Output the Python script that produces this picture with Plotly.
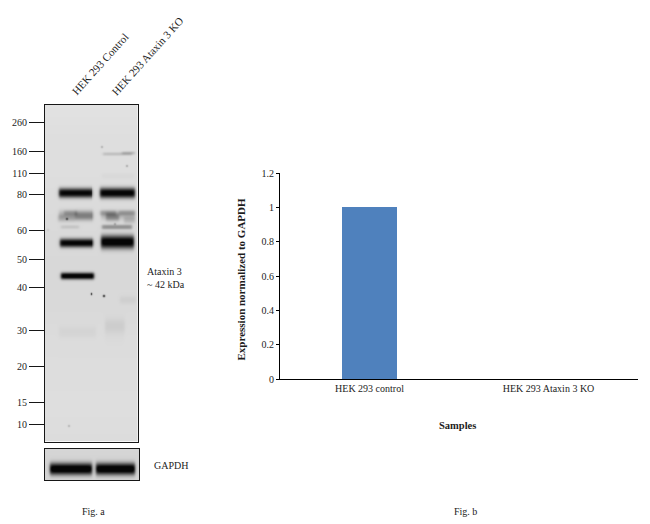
import numpy as np
import plotly.graph_objects as go

W, H = 650, 524
SERIF = "Liberation Serif"
INK = "#1c1c1c"

# ---- Fig. b: densitometry bar chart ----
samples = ["HEK 293 control", "HEK 293 Ataxin 3 KO"]
expression = [1, 0]
expression_ticks = [0, 0.2, 0.4, 0.6, 0.8, 1, 1.2]
expression_ticktext = ["0", "0.2", "0.4", "0.6", "0.8", "1", "1.2"]

# ---- Fig. a: marker ladder (kDa) and where each ran on the membrane ----
ladder_kda = ["260", "160", "110", "80", "60", "50", "40", "30", "20", "15", "10"]
ladder_migration = [18, 47, 69, 90, 126, 155, 184, 227, 263, 299, 321]

# Bands read from the membrane: left, right, migration, half thickness, darkness (0-230)
band_left = [14, 56, 14, 57, 13, 19, 30, 56, 62, 75, 80, 16, 58, 15, 57, 16, 59, 78, 14, 61, 61, 58, 76]
band_right = [48, 91, 49, 91, 30, 32, 49, 72, 75, 91, 91, 34, 88, 49, 90, 50, 88, 91, 52, 81, 80, 90, 92]
band_migration = [89, 89, 111, 111, 114, 109, 112, 109, 113, 109, 116, 123, 123, 139, 138, 172, 50, 49, 228, 222, 225, 72, 196]
band_half = [4.8, 5.2, 5.0, 4.8, 3.8, 2.8, 4.6, 2.8, 4.2, 2.8, 3.6, 2.0, 2.4, 4.4, 6.6, 3.4, 1.8, 1.8, 6.0, 7.0, 13.0, 3.0, 4.0]
band_dark = [215, 220, 38, 35, 32, 38, 55, 38, 60, 42, 32, 20, 70, 215, 225, 225, 28, 30, 7, 10, 4, 5, 10]

# Small specks: x, migration, darkness
speck_x = [47, 60, 24, 58, 83, 22, 71, 3]
speck_migration = [190, 192, 322, 43, 62, 115, 120, 126]
speck_dark = [170, 150, 35, 40, 45, 90, 40, 15]

# Loading-control bands
gapdh_left = [5, 51]
gapdh_right = [47, 90]
gapdh_migration = [20, 20]
gapdh_half = [6.0, 6.0]
gapdh_dark = [225, 225]

# Membrane background level, top to bottom
bg_levels = [226, 222, 222, 219, 217, 216, 217, 220, 221, 222, 220]


def render(nx, ny, lefts, rights, mids, halves, darks, bg, dots=()):
    xs = np.arange(nx) + 0.5
    ys = np.arange(ny) + 0.5
    img = np.tile(np.interp(ys, np.linspace(0, ny, len(bg)), bg)[:, None], (1, nx))
    for a, b, m, h, d in zip(lefts, rights, mids, halves, darks):
        across = np.exp(-np.abs((ys - m) / h) ** 2.4)
        along = 0.5 * (np.tanh((xs - a) / 1.6) - np.tanh((xs - b) / 1.6))
        img -= d * np.outer(across, along)
    for sx, sm, sd in dots:
        img -= sd * np.exp(-((xs[None, :] - sx) ** 2 + (ys[:, None] - sm) ** 2) / 1.6)
    return np.clip(img, 5, 255)


blot = render(94, 338, band_left, band_right, band_migration, band_half, band_dark,
              bg_levels, list(zip(speck_x, speck_migration, speck_dark)))
gapdh = render(95, 32, gapdh_left, gapdh_right, gapdh_migration, gapdh_half, gapdh_dark, [214, 210, 212])

GRAY = [[0, "#000000"], [1, "#ffffff"]]
fig = go.Figure()
fig.add_trace(go.Bar(x=samples, y=expression, width=0.31, marker=dict(color="#4f81bd", line_width=0),
                     xaxis="x", yaxis="y", showlegend=False))
fig.add_trace(go.Heatmap(z=blot, x=np.arange(94) + 0.5, y=np.arange(338) + 0.5, colorscale=GRAY,
                         zmin=0, zmax=255, showscale=False, xaxis="x2", yaxis="y2"))
fig.add_trace(go.Heatmap(z=gapdh, x=np.arange(95) + 0.5, y=np.arange(32) + 0.5, colorscale=GRAY,
                         zmin=0, zmax=255, showscale=False, xaxis="x3", yaxis="y3"))


def px(x0, x1):
    return [x0 / W, x1 / W]


def py(y_top, y_bottom):
    return [1 - y_bottom / H, 1 - y_top / H]


FRAME = dict(showline=True, linecolor="#161616", linewidth=1, mirror=True, showgrid=False, zeroline=False,
             automargin=False)
fig.update_layout(
    width=W, height=H, margin=dict(l=0, r=0, t=0, b=0), paper_bgcolor="white", plot_bgcolor="white",
    font=dict(family=SERIF, size=10, color=INK), bargap=0,
    xaxis=dict(domain=px(280, 638), range=[-0.5, 1.5], type="category", categoryorder="array",
               categoryarray=samples, showline=True, linecolor="black", linewidth=1, ticks="",
               showgrid=False, zeroline=False, tickfont=dict(size=10, color=INK), automargin=False,
               title=dict(text=" ")),
    yaxis=dict(domain=py(173, 379), range=[0, 1.2], tickvals=expression_ticks, ticktext=expression_ticktext,
               showline=True, linecolor="black", linewidth=1, ticks="outside", ticklen=3, tickcolor="black",
               showgrid=False, zeroline=False, tickfont=dict(size=10, color=INK), anchor="x", automargin=False,
               title=dict(text=" ")),
    xaxis2=dict(domain=px(45, 137.5), range=[0, 94], showticklabels=False, ticks="", anchor="y2", **FRAME),
    yaxis2=dict(domain=py(104.5, 441.5), range=[338, 0], tickvals=ladder_migration, ticktext=ladder_kda,
                ticks="outside", ticklen=15, tickwidth=1.3, tickcolor="#161616", anchor="x2",
                tickfont=dict(size=10, color=INK), **FRAME),
    xaxis3=dict(domain=px(44.5, 139), range=[0, 95], showticklabels=False, ticks="", anchor="y3", **FRAME),
    yaxis3=dict(domain=py(448.5, 480), range=[32, 0], showticklabels=False, ticks="", anchor="x3", **FRAME),
)


def note(text, x, y, angle=0, size=10, bold=False):
    fig.add_annotation(text=f"<b>{text}</b>" if bold else text, x=x / W, y=1 - y / H, xref="paper", yref="paper",
                       showarrow=False, textangle=angle, xanchor="center", yanchor="middle",
                       font=dict(size=size, color=INK, family=SERIF))


note("HEK 293 Control", 100, 64, -48, 11)
note("HEK 293 Ataxin 3 KO", 147.5, 56, -48, 11)
note("Ataxin 3", 164.5, 271)
note("~ 42 kDa", 166, 284)
note("GAPDH", 171, 465)
note("Fig. a", 93, 511)
note("Fig. b", 465, 511)
note("Samples", 457, 425, 0, 10.5, True)
note("Expression normalized to GAPDH", 240, 279.5, -90, 11, True)

fig.write_html("out.html", config=dict(displayModeBar=False),
               post_script="document.body.style.margin='0';document.body.style.overflow='hidden';")
